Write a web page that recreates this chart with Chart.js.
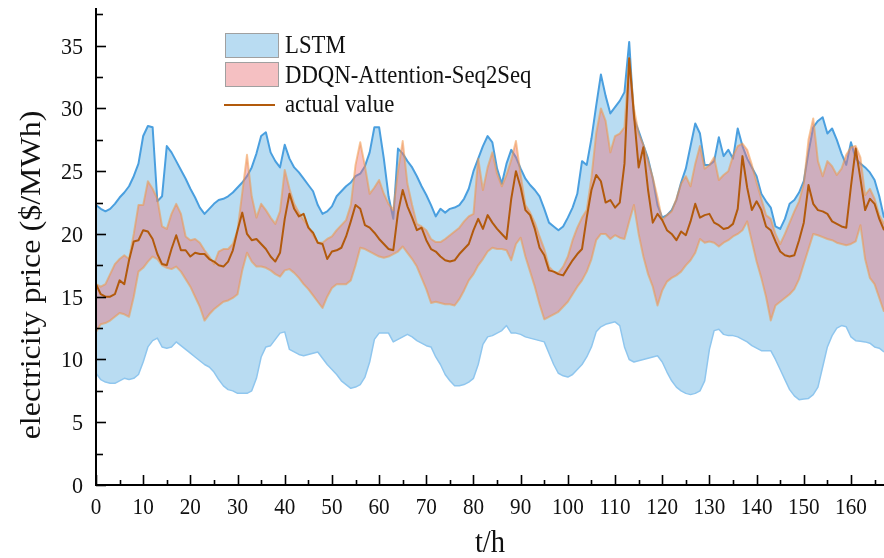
<!DOCTYPE html>
<html>
<head>
<meta charset="utf-8">
<script src="https://cdn.jsdelivr.net/npm/chart.js@4/dist/chart.umd.min.js"></script>
<style>
  html, body { margin: 0; padding: 0; background: #fff; }
  #wrap { width: 884px; height: 558px; }
</style>
</head>
<body>
<div id="wrap"><canvas id="chart" width="884" height="558"></canvas></div>
<script>
/* ===== DATA ===== */
const HOURS = Array.from({length: 168}, (_, i) => i);   // t/h, one point per hour
const X_TICKS = [0,10,20,30,40,50,60,70,80,90,100,110,120,130,140,150,160];
const Y_TICKS = [0,5,10,15,20,25,30,35];

const LSTM_UPPER = [
  22.3,22.0,21.8,22.0,22.4,22.9,23.3,23.8,24.6,25.6,
  27.8,28.6,28.5,22.6,23.0,27.0,26.5,25.8,25.1,24.4,
  23.6,22.9,22.1,21.6,22.0,22.4,22.7,22.8,23.0,23.3,
  23.7,24.1,24.6,25.3,26.4,27.8,28.1,26.5,25.8,25.3,
  27.1,26.0,25.3,24.9,24.4,23.9,23.4,22.3,21.6,21.8,
  22.2,23.0,23.4,23.8,24.1,24.6,24.8,25.4,26.5,28.5,
  28.5,26.0,23.0,21.2,26.8,26.4,25.8,25.3,24.6,23.8,
  23.1,22.3,21.4,22.0,21.7,22.0,22.1,22.3,22.8,23.6,
  25.0,26.0,27.0,27.8,27.3,25.2,24.0,25.6,26.7,26.1,
  25.2,24.4,23.9,23.5,23.0,22.0,20.9,20.6,20.3,20.6,
  21.3,22.1,23.2,25.8,25.5,27.6,30.2,32.7,31.0,29.6,
  30.1,30.6,31.3,35.3,29.2,28.2,27.1,26.0,24.4,22.3,
  21.3,21.5,21.9,22.7,24.1,25.2,27.0,28.8,28.0,25.5,
  25.5,25.8,27.7,26.2,26.7,26.0,28.4,27.0,26.0,25.3,
  24.6,23.2,22.6,22.1,20.6,20.4,21.2,22.4,22.7,23.3,
  24.2,26.5,28.5,29.0,29.3,28.0,28.4,27.5,26.4,25.5,
  27.3,26.0,25.6,25.3,24.9,24.3,23.0,21.3
];
const LSTM_LOWER = [
  8.9,8.4,8.2,8.1,8.1,8.3,8.5,8.4,8.5,8.8,
  9.8,11.0,11.5,11.7,11.0,10.9,11.0,11.4,11.1,10.8,
  10.5,10.2,9.9,9.6,9.4,9.0,8.4,7.9,7.6,7.5,
  7.3,7.3,7.3,7.5,8.5,10.2,11.0,11.1,11.6,12.1,
  12.2,10.8,10.6,10.4,10.3,10.4,10.5,10.6,10.1,9.6,
  9.2,8.8,8.3,8.0,7.7,7.8,8.0,8.6,9.8,11.6,
  12.1,12.1,12.1,11.4,11.6,11.8,12.0,11.8,11.5,11.3,
  11.1,11.0,10.2,9.6,8.8,8.3,7.9,7.9,8.0,8.2,
  8.5,9.6,11.2,11.8,11.9,12.1,12.3,12.7,12.1,12.1,
  12.0,11.8,11.7,11.6,11.5,11.4,10.5,9.6,8.9,8.7,
  8.6,8.8,9.2,9.6,10.2,11.0,12.2,12.6,12.8,12.9,
  13.0,12.7,11.0,10.0,9.8,9.9,10.0,10.1,10.2,10.3,
  9.8,9.0,8.3,7.8,7.5,7.3,7.2,7.3,7.5,8.3,
  10.8,12.3,12.4,12.0,11.9,11.9,11.8,11.6,11.4,11.1,
  10.9,10.7,10.7,10.7,10.0,9.2,8.4,7.6,7.1,6.8,
  6.85,6.9,7.2,7.8,9.4,11.0,11.9,12.5,12.7,12.6,
  11.8,11.5,11.45,11.4,11.3,11.0,10.9,10.6
];
const DDQN_UPPER = [
  16.0,15.8,16.0,16.8,17.6,18.0,18.3,18.0,20.0,22.3,
  22.3,24.2,23.6,22.8,20.6,20.4,21.6,22.4,21.6,19.8,
  19.5,19.6,19.3,18.7,18.2,17.6,18.6,18.8,18.8,19.2,
  20.3,23.3,26.3,23.0,21.3,22.4,21.9,21.3,20.8,21.8,
  25.1,23.6,22.4,21.7,21.1,20.6,19.9,19.3,19.3,19.6,
  19.8,20.3,20.7,21.1,22.3,25.5,27.3,25.4,23.2,23.7,
  24.3,23.2,22.4,21.9,25.0,27.4,24.0,22.3,20.8,20.6,
  20.3,19.6,19.35,19.35,19.6,19.9,20.2,20.5,21.0,21.4,
  21.6,26.0,23.5,25.3,26.5,24.8,23.8,24.7,25.9,27.4,
  24.7,22.3,21.7,20.9,19.8,18.8,17.4,17.0,16.9,17.4,
  18.2,19.5,20.5,21.3,21.9,24.5,28.0,30.0,29.0,26.5,
  27.8,28.0,28.5,34.0,30.0,28.0,27.1,25.8,24.5,22.9,
  21.1,21.5,21.8,22.8,24.0,24.6,23.8,25.6,27.0,25.2,
  25.5,26.1,24.3,24.7,25.0,26.2,27.0,27.2,26.7,25.5,
  24.1,22.8,21.5,21.2,20.0,19.2,20.0,20.9,21.8,22.6,
  24.0,27.5,29.2,25.8,24.6,25.8,25.4,24.7,25.2,26.3,
  26.9,27.0,26.1,23.1,23.6,22.8,21.5,20.8
];
const DDQN_LOWER = [
  12.2,12.8,12.9,13.1,13.4,13.7,13.6,13.4,15.0,17.0,
  17.3,17.8,18.2,18.0,17.5,17.3,17.2,17.4,17.0,16.4,
  15.8,15.0,14.2,13.1,13.6,14.0,14.3,14.6,14.7,14.9,
  15.2,17.1,18.5,17.8,17.4,17.4,17.3,17.1,16.8,16.6,
  17.1,17.2,16.9,16.5,16.0,15.6,15.1,14.6,14.1,15.0,
  15.7,16.0,16.0,16.0,16.3,17.5,18.9,18.8,18.6,18.4,
  18.2,18.1,18.2,18.4,18.6,19.0,18.5,18.0,17.4,16.5,
  15.6,14.5,14.6,14.5,14.4,14.4,14.3,14.8,15.5,16.3,
  16.8,17.5,18.0,18.6,18.9,18.8,18.8,18.7,17.9,19.2,
  19.7,18.2,17.0,15.8,14.4,13.2,13.4,13.6,13.8,14.2,
  14.6,15.2,15.8,16.3,17.0,18.0,19.5,20.0,20.0,19.6,
  19.9,19.7,19.6,21.0,22.3,20.0,18.2,16.8,15.8,14.3,
  15.5,16.2,16.5,16.7,17.0,17.5,17.9,18.5,19.6,19.3,
  19.4,19.3,19.0,19.3,19.5,19.8,20.0,20.3,21.0,19.4,
  17.8,16.5,15.0,13.1,14.3,14.6,14.9,15.2,15.6,16.4,
  17.6,18.8,20.0,19.9,19.75,19.6,19.5,19.3,19.2,19.1,
  19.2,19.4,20.7,18.0,16.5,16.0,14.9,13.8
];
const ACTUAL = [
  16.0,15.2,15.0,15.0,15.2,16.3,16.0,17.9,19.4,19.5,
  20.3,20.2,19.6,18.4,17.6,17.5,18.8,19.9,18.7,18.7,
  18.2,18.5,18.4,18.4,18.0,17.8,17.5,17.4,17.8,18.7,
  20.3,21.7,20.0,19.5,19.6,19.2,18.8,18.2,17.8,18.5,
  21.2,23.2,22.0,21.4,21.6,20.5,20.1,19.3,19.2,18.0,
  18.6,18.7,18.9,19.8,21.0,22.3,22.0,20.7,20.5,20.1,
  19.6,19.2,18.8,18.7,21.7,23.5,22.2,21.3,20.3,20.5,
  19.5,18.8,18.6,18.2,17.9,17.8,17.9,18.4,18.8,19.2,
  20.3,21.2,20.4,21.5,20.9,20.4,20.0,19.6,22.8,25.0,
  23.7,21.9,21.5,20.4,18.9,18.3,17.1,17.0,16.8,16.7,
  17.3,17.9,18.4,18.8,21.3,23.5,24.7,24.2,22.5,22.7,
  22.1,22.5,25.6,34.0,29.5,25.3,26.9,23.5,20.9,21.6,
  21.1,20.3,20.0,19.5,20.2,19.9,21.0,22.4,21.3,21.5,
  21.6,20.9,20.7,20.4,20.5,20.8,22.0,26.2,23.7,21.9,
  22.6,21.9,20.6,20.3,19.4,18.6,18.3,18.2,18.3,19.5,
  20.9,23.9,22.4,21.9,21.8,21.6,21.0,20.8,20.6,20.5,
  23.8,26.8,24.4,21.9,22.8,22.4,21.2,20.3
];

const LEGEND = ['LSTM', 'DDQN-Attention-Seq2Seq', 'actual value'];
const X_TITLE = 't/h';
const Y_TITLE = 'electricity price ($/MWh)';

/* ===== STYLE ===== */
const SERIF = '"Liberation Serif", "Times New Roman", serif';
const C_LSTM_FILL = '#b9dcf2';
const C_LSTM_TOP  = '#4a9fdf';
const C_LSTM_BOT  = '#8fc6ee';
const C_DDQN_FILL = 'rgba(232,118,126,0.45)';
const C_DDQN_EDGE = 'rgba(240,150,70,0.55)';
const C_ACTUAL    = '#b25a0c';

const pts = arr => HOURS.map((h, i) => ({x: h, y: arr[i]}));

// squished serif text (the reference is slightly compressed horizontally)
function sText(ctx, txt, x, y, size, align, sx) {
  ctx.save();
  ctx.font = size + 'px ' + SERIF;
  ctx.translate(x, y);
  ctx.scale(sx || 0.92, 1);
  ctx.textAlign = align || 'left';
  ctx.textBaseline = 'alphabetic';
  ctx.fillText(txt, 0, 0);
  ctx.restore();
}

/* axes, ticks (inward), labels, titles, legend */
const decor = {
  id: 'decor',
  afterDraw(chart) {
    const {ctx, chartArea: a, scales: {x, y}} = chart;
    ctx.save();
    ctx.strokeStyle = '#000';
    ctx.fillStyle = '#111';
    ctx.lineWidth = 2;
    // axis lines
    ctx.beginPath();
    ctx.moveTo(a.left, a.top);
    ctx.lineTo(a.left, a.bottom);
    ctx.lineTo(a.right, a.bottom);
    ctx.stroke();
    ctx.lineWidth = 1.6;
    // y ticks
    for (let v = 0; v <= 37.5; v += 2.5) {
      const py = Math.round(y.getPixelForValue(v)) + 0.5;
      const len = (v % 5 === 0) ? 10 : 7;
      ctx.beginPath(); ctx.moveTo(a.left, py); ctx.lineTo(a.left + len, py); ctx.stroke();
    }
    Y_TICKS.forEach(v => sText(ctx, String(v), a.left - 13, y.getPixelForValue(v) + 8, 24, 'right'));
    // x ticks
    for (let v = 0; v <= 165; v += 5) {
      const px = Math.round(x.getPixelForValue(v)) + 0.5;
      const len = (v % 10 === 0) ? 10 : 5;
      ctx.beginPath(); ctx.moveTo(px, a.bottom); ctx.lineTo(px, a.bottom - len); ctx.stroke();
    }
    X_TICKS.forEach(v => sText(ctx, String(v), x.getPixelForValue(v), a.bottom + 29, 23, 'center'));
    // titles
    sText(ctx, X_TITLE, 490, 552, 31, 'center');
    ctx.save();
    ctx.translate(40, 275);
    ctx.rotate(-Math.PI / 2);
    ctx.scale(1, 0.92);
    ctx.font = '32px ' + SERIF;
    ctx.textAlign = 'center';
    ctx.textBaseline = 'alphabetic';
    ctx.fillText(Y_TITLE, 0, 0);
    ctx.restore();
    // legend
    const lx = 225, bw = 53, bh = 24;
    ctx.lineWidth = 1;
    ctx.strokeStyle = '#a0a0a0';
    ctx.fillStyle = C_LSTM_FILL;
    ctx.fillRect(lx, 33, bw, bh); ctx.strokeRect(lx + 0.5, 33.5, bw, bh);
    ctx.fillStyle = '#f5c0c2';
    ctx.fillRect(lx, 62, bw, bh); ctx.strokeRect(lx + 0.5, 62.5, bw, bh);
    ctx.strokeStyle = C_ACTUAL; ctx.lineWidth = 2;
    ctx.beginPath(); ctx.moveTo(lx - 1, 105); ctx.lineTo(lx + 50, 105); ctx.stroke();
    ctx.fillStyle = '#111';
    sText(ctx, LEGEND[0], 285, 53, 25, 'left', 0.91);
    sText(ctx, LEGEND[1], 285, 83, 25, 'left', 0.91);
    sText(ctx, LEGEND[2], 285, 112, 25, 'left', 0.91);
    ctx.restore();
  }
};

new Chart(document.getElementById('chart'), {
  type: 'line',
  data: {
    datasets: [
      {label: 'LSTM lower', data: pts(LSTM_LOWER), borderColor: C_LSTM_BOT, borderWidth: 1.5,
       backgroundColor: C_LSTM_FILL, fill: '+1', order: 4},
      {label: 'LSTM upper', data: pts(LSTM_UPPER), borderColor: C_LSTM_TOP, borderWidth: 2,
       fill: false, order: 3},
      {label: 'DDQN lower', data: pts(DDQN_LOWER), borderColor: C_DDQN_EDGE, borderWidth: 2,
       backgroundColor: C_DDQN_FILL, fill: '+1', order: 2},
      {label: 'DDQN upper', data: pts(DDQN_UPPER), borderColor: C_DDQN_EDGE, borderWidth: 2,
       fill: false, order: 1},
      {label: 'actual value', data: pts(ACTUAL), borderColor: C_ACTUAL, borderWidth: 2,
       fill: false, order: 0}
    ]
  },
  options: {
    responsive: false,
    animation: false,
    layout: {padding: {top: 8, left: 0, right: 0, bottom: 0}},
    elements: {point: {radius: 0}, line: {tension: 0, borderJoinStyle: 'round'}},
    plugins: {legend: {display: false}, tooltip: {enabled: false}},
    scales: {
      x: {type: 'linear', min: 0, max: 167,
          grid: {display: false}, border: {display: false}, ticks: {display: false},
          afterFit: s => { s.height = 73; }},
      y: {min: 0, max: 38,
          grid: {display: false}, border: {display: false}, ticks: {display: false},
          afterFit: s => { s.width = 96; }}
    }
  },
  plugins: [decor]
});
</script>
</body>
</html>
